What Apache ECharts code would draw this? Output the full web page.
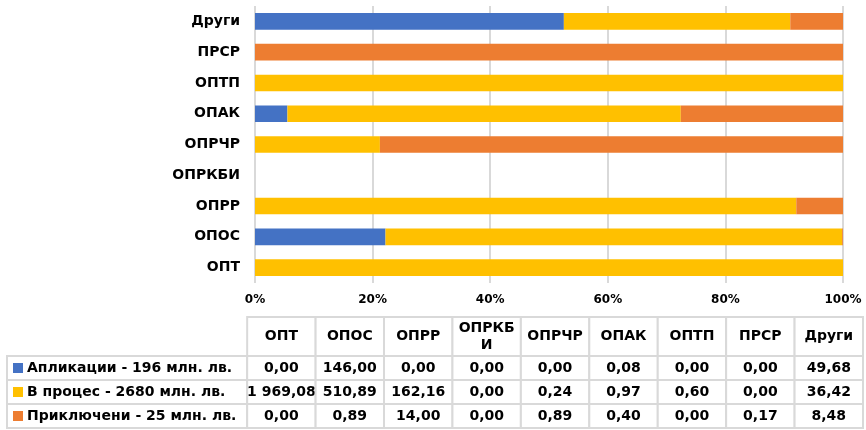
<!DOCTYPE html>
<html>
<head>
<meta charset="utf-8">
<script src="https://cdn.jsdelivr.net/npm/echarts@6/dist/echarts.min.js"></script>
<style>
html,body{margin:0;padding:0;background:#fff;}
#chart{width:866px;height:430px;}
</style>
</head>
<body>
<div id="chart"></div>
<script>
// ---- data ----
const categories = ['ОПТ', 'ОПОС', 'ОПРР', 'ОПРКБИ', 'ОПРЧР', 'ОПАК', 'ОПТП', 'ПРСР', 'Други'];
const seriesNames = ['Апликации - 196 млн. лв.', 'В процес - 2680 млн. лв.', 'Приключени - 25 млн. лв.'];
const applications = [0.00, 146.00, 0.00, 0.00, 0.00, 0.08, 0.00, 0.00, 49.68];
const inProcess = [1969.08, 510.89, 162.16, 0.00, 0.24, 0.97, 0.60, 0.00, 36.42];
const completed = [0.00, 0.89, 14.00, 0.00, 0.89, 0.40, 0.00, 0.17, 8.48];
const percentTicks = { min: 0, max: 100, interval: 20 };

// ---- styles / layout ----
const colors = ['#4472C4', '#FFC000', '#ED7D31'];
const FONT = '"DejaVu Sans", sans-serif';
const BORDER = '#D9D9D9';
const HEADER_UNITS = 1.625;     // header row height in table-row units
const LABEL_UNITS = -3.51;      // row-label column width in table-column units

const allSeries = [applications, inProcess, completed];
const totals = categories.map((_, i) => allSeries.reduce((s, a) => s + a[i], 0));
const pct = arr => arr.map((v, i) => totals[i] > 0 ? v / totals[i] * 100 : 0);

function fmt(v) {
  const s = v.toFixed(2).split('.');
  const int = s[0].replace(/\B(?=(\d{3})+(?!\d))/g, ' ');
  return int + ',' + s[1];
}

// greedy character wrap using canvas measurement
const measureCtx = document.createElement('canvas').getContext('2d');
function wrapChars(text, maxW, font) {
  measureCtx.font = font;
  if (measureCtx.measureText(text).width <= maxW) return text;
  const lines = []; let cur = '';
  for (const ch of text) {
    if (cur && measureCtx.measureText(cur + ch).width > maxW) { lines.push(cur); cur = ch; }
    else cur += ch;
  }
  if (cur) lines.push(cur);
  return lines.join('\n');
}

// table cells: [col, row]; col -1 = row label, row -1 = header
const cells = [];
categories.forEach((_, c) => cells.push([c, -1]));
seriesNames.forEach((_, r) => {
  cells.push([-1, r]);
  categories.forEach((_, c) => cells.push([c, r]));
});

const textBase = { fontFamily: FONT, fontWeight: 'bold', fontSize: 14, fill: '#000' };

function renderCell(params, api) {
  const c = api.value(0), r = api.value(1);
  const x0 = c < 0 ? LABEL_UNITS : c, x1 = c < 0 ? 0 : c + 1;
  const y0 = r < 0 ? 0 : HEADER_UNITS + r, y1 = r < 0 ? HEADER_UNITS : HEADER_UNITS + r + 1;
  const p0 = api.coord([x0, y0]), p1 = api.coord([x1, y1]);
  const x = Math.min(p0[0], p1[0]), y = Math.min(p0[1], p1[1]);
  const w = Math.abs(p1[0] - p0[0]), h = Math.abs(p1[1] - p0[1]);
  const children = [{
    type: 'rect', shape: { x, y, width: w, height: h },
    style: { fill: '#fff', stroke: BORDER, lineWidth: 2 }
  }];
  if (c < 0) {
    children.push({ type: 'rect', shape: { x: x + 6, y: y + h / 2 - 5, width: 10, height: 10 },
      style: { fill: colors[r] } });
    children.push({ type: 'text', style: Object.assign({}, textBase, {
      text: seriesNames[r], x: x + 20, y: y + h / 2, align: 'left', verticalAlign: 'middle' }) });
  } else if (r < 0) {
    children.push({ type: 'text', style: Object.assign({}, textBase, {
      text: wrapChars(categories[c], w - 2, 'bold 14px ' + FONT),
      x: x + w / 2, y: y + h / 2, align: 'center', verticalAlign: 'middle', lineHeight: 17 }) });
  } else {
    children.push({ type: 'text', style: Object.assign({}, textBase, {
      text: fmt(allSeries[r][c]), x: x + w / 2, y: y + h / 2, align: 'center', verticalAlign: 'middle' }) });
  }
  return { type: 'group', children };
}

const chart = echarts.init(document.getElementById('chart'), null, { renderer: 'canvas' });
chart.setOption({
  animation: false,
  backgroundColor: '#fff',
  grid: [
    { left: 255, right: 23, top: 6, height: 277, containLabel: false, outerBoundsMode: 'none' },
    { left: 7, right: 3, top: 317, bottom: 2, containLabel: false, outerBoundsMode: 'none' }
  ],
  xAxis: [
    { type: 'value', gridIndex: 0, min: percentTicks.min, max: percentTicks.max, interval: percentTicks.interval,
      axisLine: { show: false }, axisTick: { show: false },
      splitLine: { show: true, lineStyle: { color: BORDER, width: 2 } },
      axisLabel: { formatter: '{value}%', color: '#000', fontFamily: FONT, fontWeight: 'bold', fontSize: 12, margin: 11 } },
    { type: 'value', gridIndex: 1, min: LABEL_UNITS, max: categories.length, show: false }
  ],
  yAxis: [
    { type: 'category', gridIndex: 0, data: categories,
      axisLine: { show: false }, axisTick: { show: false }, splitLine: { show: false },
      axisLabel: { color: '#000', fontFamily: FONT, fontWeight: 'bold', fontSize: 14, margin: 15 } },
    { type: 'value', gridIndex: 1, min: 0, max: HEADER_UNITS + seriesNames.length, inverse: true, show: false }
  ],
  series: [
    ...allSeries.map((arr, i) => ({
      type: 'bar', name: seriesNames[i], stack: 'total', xAxisIndex: 0, yAxisIndex: 0,
      barCategoryGap: '46%', itemStyle: { color: colors[i] }, data: pct(arr)
    })),
    { type: 'custom', xAxisIndex: 1, yAxisIndex: 1, clip: false, silent: true,
      renderItem: renderCell, encode: { x: 0, y: 1 }, data: cells }
  ]
});
</script>
</body>
</html>
